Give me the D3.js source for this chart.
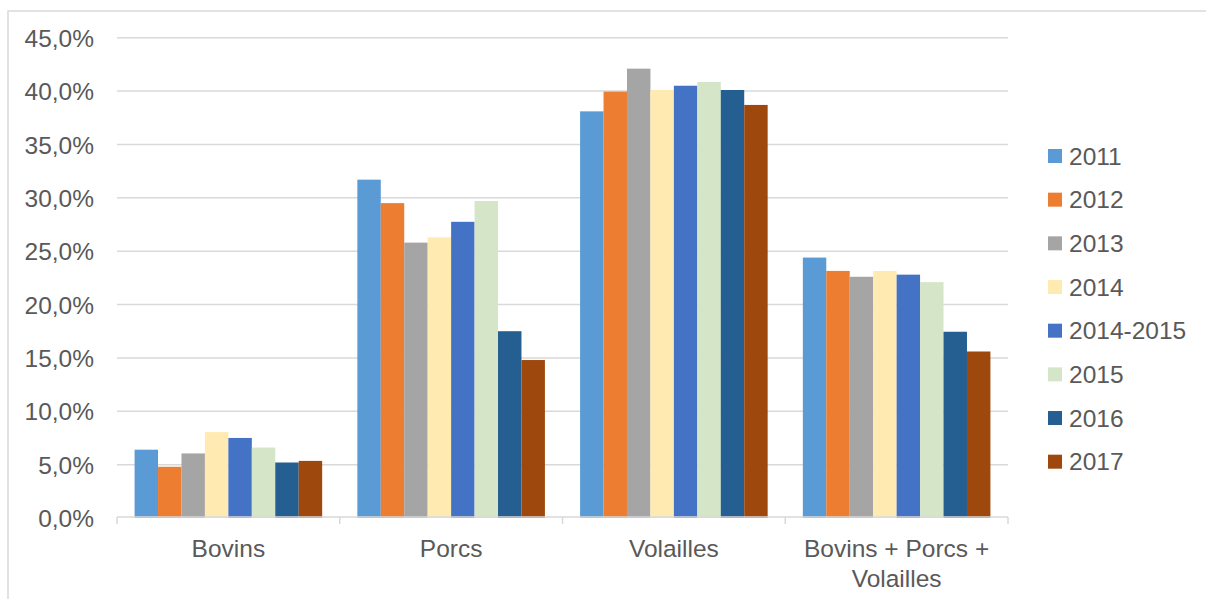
<!DOCTYPE html>
<html>
<head>
<meta charset="utf-8">
<script src="https://cdn.jsdelivr.net/npm/d3@7"></script>
<style>
  html, body { margin: 0; padding: 0; background: #fff; }
  svg { display: block; }
  text { font-family: "Liberation Sans", Arial, sans-serif; fill: #595959; }
</style>
</head>
<body>
<svg id="chart" width="1206" height="599"></svg>
<script>
const categories = ["Bovins", "Porcs", "Volailles", "Bovins + Porcs + Volailles"];
const categoryLines = [["Bovins"], ["Porcs"], ["Volailles"], ["Bovins + Porcs +", "Volailles"]];
const seriesNames = ["2011", "2012", "2013", "2014", "2014-2015", "2015", "2016", "2017"];
const seriesColors = ["#5B9BD5", "#ED7D31", "#A5A5A5", "#FFEBB2", "#4472C4", "#D5E5C8", "#255E91", "#9E480E"];
// values in %, one array per category, ordered as seriesNames
const bovins    = [6.4, 4.8, 6.05, 8.05, 7.5, 6.6, 5.2, 5.35];
const porcs     = [31.7, 29.5, 25.8, 26.3, 27.75, 29.7, 17.5, 14.8];
const volailles = [38.1, 39.95, 42.1, 40.1, 40.5, 40.85, 40.1, 38.7];
const total     = [24.4, 23.15, 22.6, 23.15, 22.8, 22.1, 17.45, 15.6];
const yTicks = [0, 5, 10, 15, 20, 25, 30, 35, 40, 45];

const values = [bovins, porcs, volailles, total];

const svg = d3.select("#chart");
const fs = 24.5;

// outer frame
svg.append("rect").attr("x", 8).attr("y", 11).attr("width", 1300).attr("height", 700)
  .attr("fill", "none").attr("stroke", "#D9D9D9").attr("stroke-width", 1.5);

const plot = { left: 117, right: 1008, top: 37.7, bottom: 518 };

const x0 = d3.scaleBand().domain(categories).range([plot.left, plot.right]).paddingInner(0).paddingOuter(0);
const bw = x0.bandwidth();
const gap = bw / (seriesNames.length + 1.5) * 0.75;
const x1 = d3.scaleBand().domain(seriesNames).range([gap, bw - gap]).padding(0);
const y = d3.scaleLinear().domain([0, 45]).range([plot.bottom, plot.top]);

// gridlines
const grid = svg.append("g");
grid.selectAll("line").data(yTicks.filter(t => t > 0)).join("line")
  .attr("x1", plot.left).attr("x2", plot.right)
  .attr("y1", d => y(d)).attr("y2", d => y(d))
  .attr("stroke", "#D9D9D9").attr("stroke-width", 1.5);

// y axis labels
const yAxis = d3.axisLeft(y).tickValues(yTicks)
  .tickFormat(d => d3.format(".1f")(d).replace(".", ",") + "%")
  .tickSize(0).tickPadding(23);
const ya = svg.append("g").attr("transform", `translate(${plot.left},0)`).call(yAxis);
ya.select(".domain").remove();
ya.selectAll("text").attr("font-size", fs).attr("font-family", "Liberation Sans, Arial, sans-serif")
  .attr("fill", "#595959").attr("dy", "0.35em");

// bars
const groups = svg.append("g").selectAll("g").data(categories).join("g")
  .attr("transform", d => `translate(${x0(d)},0)`);
groups.selectAll("rect").data((c, i) => values[i].map((v, j) => ({ s: seriesNames[j], v, j })))
  .join("rect")
  .attr("x", d => x1(d.s))
  .attr("width", x1.bandwidth())
  .attr("y", d => y(d.v))
  .attr("height", d => y(0) - y(d.v))
  .attr("fill", d => seriesColors[d.j]);

// x axis
const xAxis = d3.axisBottom(x0).tickSize(0).tickFormat("");
const xa = svg.append("g").attr("transform", `translate(0,${plot.bottom - 1})`).call(xAxis);
xa.select(".domain").remove();
xa.append("line").attr("x1", plot.left).attr("x2", plot.right).attr("y1", 0).attr("y2", 0)
  .attr("stroke", "#D9D9D9").attr("stroke-width", 1.5);
const bounds = categories.map(c => x0(c)).concat([plot.right]);
xa.selectAll("line.tk").data(bounds).join("line").attr("class", "tk")
  .attr("x1", d => d).attr("x2", d => d).attr("y1", 0).attr("y2", 7)
  .attr("stroke", "#D9D9D9").attr("stroke-width", 1.5);

// category labels
const labels = svg.append("g").selectAll("text").data(categories).join("text")
  .attr("x", d => x0(d) + bw / 2)
  .attr("y", 557)
  .attr("text-anchor", "middle")
  .attr("font-size", fs);
labels.each(function(d, i) {
  const t = d3.select(this);
  categoryLines[i].forEach((ln, k) => {
    t.append("tspan").attr("x", x0(d) + bw / 2).attr("dy", k === 0 ? 0 : 29.5).text(ln);
  });
});

// legend
const lg = svg.append("g").attr("transform", "translate(1048,156)");
const items = lg.selectAll("g").data(seriesNames).join("g")
  .attr("transform", (d, i) => `translate(0,${i * 43.67})`);
items.append("rect").attr("x", 0).attr("y", -7).attr("width", 14).attr("height", 14)
  .attr("fill", (d, i) => seriesColors[i]);
items.append("text").attr("x", 21).attr("y", 0).attr("dy", "0.35em")
  .attr("font-size", fs).text(d => d);
</script>
</body>
</html>
